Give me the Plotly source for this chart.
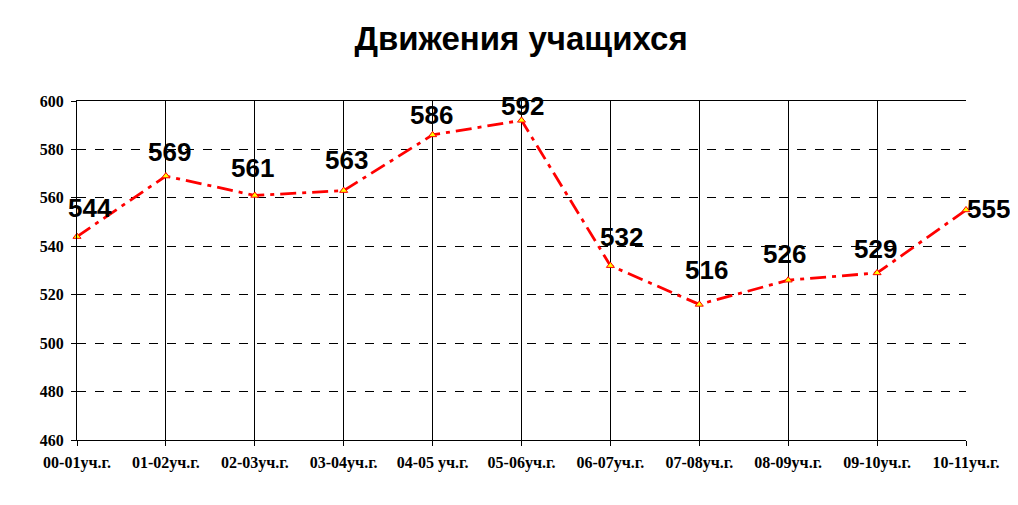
import plotly.graph_objects as go

categories = ["00-01уч.г.", "01-02уч.г.", "02-03уч.г.", "03-04уч.г.", "04-05 уч.г.",
              "05-06уч.г.", "06-07уч.г.", "07-08уч.г.", "08-09уч.г.", "09-10уч.г.", "10-11уч.г."]
values = [544, 569, 561, 563, 586, 592, 532, 516, 526, 529, 555]
title_text = "Движения учащихся"

# label placement offsets in pixels (style only): (right, up)
label_dx = [13, 4, -2, 3, -1, 1, 11, 7, -4, -2, 22]
label_dy = [29, 24, 27, 31, 20, 14, 29, 34, 26, 24, 1]

xs = list(range(len(categories)))

fig = go.Figure()
fig.add_trace(go.Scatter(
    x=xs, y=values,
    mode="lines+markers",
    line=dict(color="#ff0000", width=2.8, dash="16px,6px,4px,6px"),
    marker=dict(symbol="triangle-up", size=7, color="#ffff00", line=dict(color="#ff0000", width=1)),
    cliponaxis=False,
    showlegend=False,
))

for x, v, dx, dy in zip(xs, values, label_dx, label_dy):
    fig.add_annotation(
        x=x, y=v, text="<b>%d</b>" % v, showarrow=False,
        xanchor="center", yanchor="middle", xshift=dx, yshift=dy,
        font=dict(family="Liberation Sans, Arial", size=26, color="black"),
    )

fig.update_layout(
    width=1018, height=505,
    margin=dict(l=69, r=60, t=93, b=73),
    paper_bgcolor="white", plot_bgcolor="white",
    title=dict(text="<b>" + title_text + "</b>", x=0.504, xanchor="center", y=0.94, yanchor="middle",
               font=dict(family="Liberation Sans, Arial", size=33, color="black")),
    xaxis=dict(
        tickmode="array", tickvals=xs, ticktext=categories,
        range=[0, len(categories) - 1],
        showgrid=True, gridcolor="black", gridwidth=1,
        showline=True, linecolor="black", linewidth=1, mirror=True,
        ticks="outside", ticklen=5, tickcolor="black", ticklabelstandoff=3,
        tickfont=dict(family="Liberation Serif, Times New Roman", size=16, color="black", weight="bold"),
        zeroline=False,
    ),
    yaxis=dict(
        range=[460, 600], tickmode="linear", tick0=460, dtick=20,
        showgrid=True, gridcolor="black", gridwidth=1, griddash="dash",
        showline=True, linecolor="black", linewidth=1,
        ticks="outside", ticklen=5, tickcolor="black", ticklabelstandoff=4,
        tickfont=dict(family="Liberation Serif, Times New Roman", size=16, color="black", weight="bold"),
        zeroline=False,
    ),
)

fig.write_html("out.html")
